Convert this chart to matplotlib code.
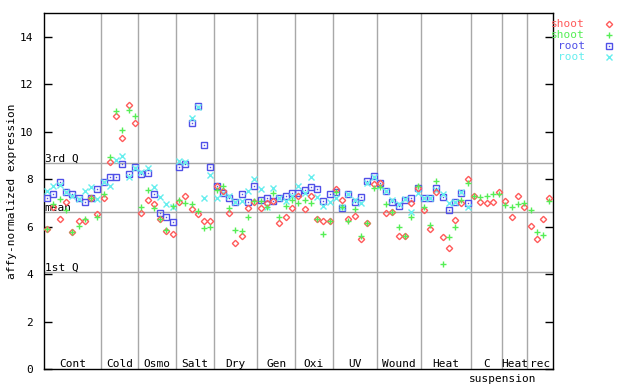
import numpy as np
from matplotlib import pyplot as plt

nan = np.nan

# group names and number of samples per group
groups = ['Cont', 'Cold', 'Osmo', 'Salt', 'Dry', 'Gen', 'Oxi', 'UV', 'Wound', 'Heat', 'C', 'Heat', 'rec']
group_sizes = [9, 6, 6, 6, 7, 6, 6, 7, 7, 8, 5, 4, 4]

# shoot, replicate 1 (red diamonds)
shoot_1 = [5.88, 6.83, 6.31, 7.03, 5.78, 6.25, 6.25, 7.21, 6.54,
           7.19, 8.71, 10.66, 9.72, 11.12, 10.35,
           6.56, 7.10, 6.95, 6.30, 5.83, 5.67,
           7.05, 7.27, 6.73, 6.52, 6.24, 6.24,
           7.69, 7.51, 6.56, 5.30, 5.60, 6.77, 7.05,
           6.77, 7.01, 7.08, 6.17, 6.39, 6.77,
           7.29, 6.73, 7.27, 6.34, 6.25, 6.25,
           7.57, 7.14, 6.32, 6.45, 5.48, 6.14, 7.78,
           7.82, 6.59, 6.63, 5.60, 5.62, 6.98, 7.61,
           6.70, 5.90, 7.45, 5.55, 5.09, 6.28, 6.98, 8.01,
           7.27, 7.05, 6.98, 7.02, 7.45,
           7.08, 6.39, 7.29, 6.81,
           6.03, 5.48, 6.31, 7.19]

# shoot, replicate 2 (green plus)
shoot_2 = [5.90, 6.94, 7.16, 6.68, 5.76, 6.04, 6.32, 7.19, 6.39,
           7.37, 8.92, 10.87, 10.06, 10.91, 10.66,
           6.81, 7.54, 6.77, 6.34, 5.84, 6.87,
           7.12, 6.98, 6.94, 6.66, 5.93, 5.97,
           7.55, 7.69, 6.77, 5.86, 5.83, 6.39, 7.08,
           7.08, 6.81, 7.40, 6.39, 6.85, 7.12,
           6.98, 7.14, 6.98, 6.34, 5.67, 6.24,
           7.47, 6.81, 6.24, 6.74, 5.62, 6.14, 7.61,
           7.65, 6.94, 6.63, 5.97, 5.60, 6.39, 7.73,
           6.81, 6.07, 7.92, 4.41, 5.55, 6.00, 7.12, 7.82,
           7.27, 7.23, 7.30, 7.36, 7.37,
           6.91, 6.81, 6.95, 7.01,
           6.70, 5.76, 5.65, 7.08]

# root, replicate 1 (blue squares)
root_1 = [7.19, 7.37, 7.90, 7.47, 7.37, 7.19, 7.02, 7.19, 7.57,
          7.87, 8.07, 8.11, 8.64, 8.22, 8.50,
          8.22, 8.26, 7.36, 6.56, 6.39, 6.18,
          8.50, 8.64, 10.35, 11.10, 9.44, 8.50,
          7.71, 7.40, 7.22, 7.05, 7.36, 7.02, 7.73,
          7.14, 7.19, 7.08, 7.19, 7.27, 7.40,
          7.40, 7.54, 7.65, 7.57, 7.09, 7.36,
          7.44, 6.80, 7.36, 7.02, 7.23, 7.92, 8.15,
          7.82, 7.51, 7.02, 6.87, 7.12, 7.19, 7.61,
          7.19, 7.22, 7.61, 7.23, 6.70, 7.02, 7.40, 6.98,
          nan, nan, nan, nan, nan,
          nan, nan, nan, nan,
          nan, nan, nan, nan]

# root, replicate 2 (cyan crosses)
root_2 = [7.52, 7.71, 7.75, 7.45, 7.27, 7.16, 7.52, 7.65, 7.16,
          7.87, 7.69, 8.81, 8.99, 8.09, 8.45,
          8.31, 8.45, 7.65, 7.23, 6.95, 6.81,
          8.77, 8.74, 10.56, 11.05, 7.19, 8.18,
          7.19, 7.40, 7.29, 7.05, 7.08, 7.50, 7.99,
          7.57, 6.81, 7.61, 7.19, 7.08, 7.27,
          7.69, 7.40, 8.07, 7.23, 6.87, 7.02,
          7.19, 6.83, 7.36, 7.12, 6.98, 7.82, 8.07,
          7.69, 7.50, 7.12, 6.94, 7.16, 6.63, 7.43,
          7.19, 7.22, 7.54, 7.37, 7.01, 7.05, 7.47, 6.81,
          nan, nan, nan, nan, nan,
          nan, nan, nan, nan,
          nan, nan, nan, nan]

# reference lines
q1 = 4.09
mean_val = 6.62
q3 = 8.69

RED = '#ff5a5a'
GREEN = '#55ee55'
BLUE = '#5050e8'
CYAN = '#66eeee'
GRAY = '#a8a8a8'

plt.rcParams['font.family'] = 'DejaVu Sans Mono'
plt.rcParams['font.size'] = 8

fig = plt.figure(figsize=(6.4, 3.84), dpi=100)
ax = fig.add_axes([44 / 640, 15 / 384, 508.5 / 640, 356 / 384])

x = np.arange(len(shoot_1))
n = len(x)

# grey guide lines
for v in [q1, mean_val, q3]:
    ax.axhline(v, color=GRAY, lw=1, zorder=1)
bounds = np.cumsum(group_sizes)[:-1] - 0.5
for b in bounds:
    ax.axvline(b, color=GRAY, lw=1, zorder=1)

ax.text(-0.4, q3 + 0.06, '3rd Q', va='baseline', ha='left', zorder=2)
ax.text(-0.4, mean_val + 0.02, 'mean', va='baseline', ha='left', zorder=2)
ax.text(-0.4, q1 + 0.03, '1st Q', va='baseline', ha='left', zorder=2)

# data points
ax.plot(x, root_1, ls='none', marker='s', ms=4, mfc='none', mec=BLUE, mew=1, zorder=3)
ax.plot(x, root_1, ls='none', marker='s', ms=1, mfc=BLUE, mec=BLUE, mew=0, zorder=3)
ax.plot(x, root_2, ls='none', marker='x', ms=4, mec=CYAN, mew=1, zorder=3)
ax.plot(x, shoot_1, ls='none', marker='D', ms=3.2, mfc='none', mec=RED, mew=1, zorder=4)
ax.plot(x, shoot_2, ls='none', marker='+', ms=5, mec=GREEN, mew=1, zorder=4)

# group labels
starts = np.concatenate([[0], np.cumsum(group_sizes)[:-1]])
for name, s, size in zip(groups, starts, group_sizes):
    ax.text(s + (size - 1) / 2, 0.1, name, ha='center', va='baseline')
ax.text(bounds[10], -0.22, 'suspension', ha='center', va='top', clip_on=False)

ax.set_xlim(-0.5, n - 0.5)
ax.set_ylim(0, 15)
ax.set_xticks([])
ax.set_yticks(np.arange(0, 15, 2))
ax.tick_params(axis='y', direction='in', length=6, width=1, pad=8, right=True)
for sp in ax.spines.values():
    sp.set_linewidth(1)
ax.set_ylabel('affy-normalized expression', va='center')
ax.yaxis.set_label_coords(-(44 - 12) / 508.5, 0.5)

# legend outside on the right
leg_items = [('shoot', RED, 'D', 3.2), ('shoot', GREEN, '+', 5),
             ('root', BLUE, 's', 4), ('root', CYAN, 'x', 4)]
for i, (lab, col, mk, ms) in enumerate(leg_items):
    yy = 1 - (24 + 11 * i) / 384
    fig.text(585 / 640, yy, lab, color=col, ha='right', va='center')
    face = 'none' if mk in ('D', 's') else col
    ax.plot([609 / 640], [yy], transform=fig.transFigure, clip_on=False,
            ls='none', marker=mk, ms=ms, mfc=face, mec=col, mew=1)
    if mk == 's':
        ax.plot([609 / 640], [yy], transform=fig.transFigure, clip_on=False,
                ls='none', marker='s', ms=1, mfc=col, mec=col, mew=0)

fig.savefig('out.png', dpi=100)
